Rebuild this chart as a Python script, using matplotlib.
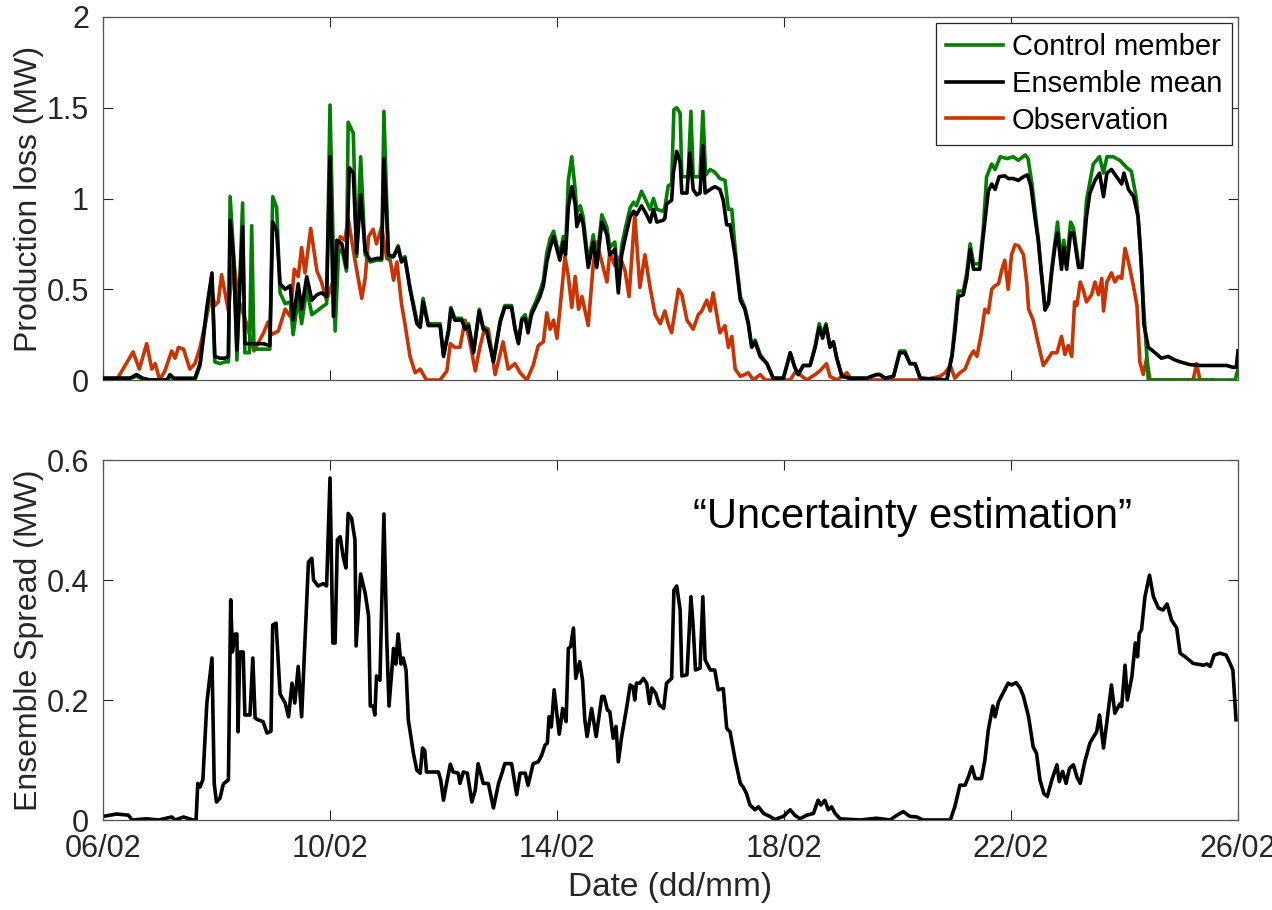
import numpy as np
import matplotlib
matplotlib.use("Agg")
import matplotlib.pyplot as plt

plt.rcParams['font.family'] = ['Liberation Sans', 'DejaVu Sans']

# x values are days since 06/02 00:00
tick_days = [0, 4, 8, 12, 16, 20]
tick_labels = ['06/02', '10/02', '14/02', '18/02', '22/02', '26/02']

mean_pts = [
(0,0.01),(0.48,0.01),(0.59,0.03),(0.7,0.01),(0.83,0.0),(1.13,0.0),(1.18,0.03),(1.25,0.01),(1.62,0.01),(1.71,0.09),(1.83,0.40),(1.92,0.59),(1.97,0.13),(2.06,0.12),(2.15,0.12),(2.21,0.13),(2.24,0.88),(2.30,0.68),(2.36,0.165),(2.46,0.845),(2.50,0.20),(2.64,0.20),(2.82,0.20),(2.94,0.19),(2.99,0.87),(3.06,0.82),(3.12,0.53),(3.21,0.50),(3.30,0.52),(3.35,0.33),(3.44,0.53),(3.50,0.39),(3.59,0.57),(3.68,0.44),(3.77,0.47),(3.85,0.48),(3.94,0.46),(4.00,1.23),(4.06,0.35),(4.12,0.77),(4.21,0.75),(4.29,0.62),(4.34,1.17),(4.41,1.14),(4.47,0.70),(4.54,1.02),(4.62,0.71),(4.71,0.66),(4.82,0.67),(4.91,0.67),(4.95,1.22),(5.03,0.69),(5.12,0.68),(5.20,0.73),(5.26,0.65),(5.32,0.67),(5.41,0.50),(5.53,0.31),(5.59,0.29),(5.64,0.43),(5.73,0.30),(5.94,0.30),(6.00,0.13),(6.09,0.27),(6.13,0.39),(6.20,0.33),(6.32,0.33),(6.38,0.28),(6.44,0.30),(6.53,0.15),(6.63,0.38),(6.70,0.28),(6.76,0.27),(6.88,0.10),(7.00,0.32),(7.08,0.40),(7.20,0.40),(7.26,0.28),(7.32,0.20),(7.38,0.33),(7.44,0.34),(7.49,0.26),(7.55,0.36),(7.61,0.40),(7.70,0.46),(7.76,0.52),(7.82,0.65),(7.88,0.73),(7.94,0.79),(8.00,0.72),(8.05,0.66),(8.11,0.76),(8.15,0.69),(8.20,0.955),(8.26,1.065),(8.32,0.97),(8.35,0.845),(8.41,0.91),(8.46,0.86),(8.55,0.62),(8.64,0.76),(8.70,0.62),(8.79,0.87),(8.88,0.80),(8.93,0.69),(9.02,0.72),(9.08,0.48),(9.14,0.69),(9.20,0.78),(9.29,0.90),(9.35,0.93),(9.40,0.91),(9.49,0.96),(9.58,0.91),(9.64,0.87),(9.70,0.94),(9.76,0.87),(9.87,0.88),(9.90,0.89),(9.93,0.97),(10.02,0.99),(10.05,1.14),(10.11,1.26),(10.17,1.20),(10.20,1.03),(10.29,1.03),(10.34,1.25),(10.40,1.05),(10.46,1.02),(10.52,1.03),(10.57,1.29),(10.61,1.03),(10.70,1.05),(10.78,1.065),(10.87,1.05),(10.93,0.99),(10.99,0.855),(11.05,0.855),(11.14,0.68),(11.23,0.44),(11.31,0.39),(11.37,0.31),(11.43,0.18),(11.49,0.21),(11.58,0.13),(11.70,0.09),(11.81,0.01),(11.99,0.01),(12.11,0.15),(12.19,0.07),(12.25,0.03),(12.34,0.08),(12.46,0.08),(12.55,0.18),(12.62,0.29),(12.68,0.23),(12.74,0.30),(12.81,0.18),(12.87,0.21),(12.93,0.12),(13.02,0.02),(13.16,0.01),(13.46,0.01),(13.63,0.03),(13.69,0.03),(13.78,0.01),(13.93,0.02),(14.04,0.15),(14.13,0.15),(14.22,0.09),(14.31,0.09),(14.40,0.01),(14.87,0.0),(14.96,0.13),(15.01,0.26),(15.07,0.46),(15.16,0.47),(15.22,0.56),(15.28,0.72),(15.34,0.61),(15.45,0.61),(15.51,0.79),(15.60,1.04),(15.66,1.08),(15.72,1.05),(15.79,1.12),(15.89,1.125),(15.95,1.11),(16.04,1.11),(16.13,1.10),(16.22,1.12),(16.29,1.13),(16.35,1.07),(16.42,0.90),(16.48,0.77),(16.54,0.57),(16.60,0.385),(16.66,0.42),(16.72,0.60),(16.78,0.75),(16.82,0.81),(16.89,0.61),(16.93,0.73),(16.98,0.61),(17.05,0.81),(17.10,0.81),(17.19,0.62),(17.25,0.62),(17.33,0.90),(17.39,1.03),(17.48,1.10),(17.56,1.14),(17.63,1.01),(17.69,1.14),(17.77,1.16),(17.86,1.12),(17.95,1.08),(17.99,1.14),(18.07,1.05),(18.16,1.01),(18.24,0.90),(18.30,0.62),(18.34,0.31),(18.42,0.18),(18.54,0.15),(18.65,0.12),(18.77,0.13),(18.89,0.11),(18.98,0.10),(19.15,0.085),(19.33,0.08),(19.57,0.08),(19.80,0.08),(19.91,0.07),(19.97,0.07),(20.0,0.16)]

ctrl_pts = [
(0,0.01),(0.48,0.01),(0.59,0.02),(0.7,0.005),(0.83,0.0),(1.13,0.0),(1.18,0.02),(1.25,0.0),(1.62,0.0),(1.71,0.08),(1.83,0.38),(1.92,0.57),(1.97,0.10),(2.06,0.09),(2.15,0.10),(2.21,0.10),(2.24,1.01),(2.30,0.70),(2.36,0.11),(2.46,0.975),(2.50,0.15),(2.58,0.15),(2.62,0.85),(2.66,0.17),(2.82,0.17),(2.94,0.17),(2.99,1.01),(3.06,0.95),(3.12,0.48),(3.21,0.42),(3.30,0.43),(3.35,0.25),(3.44,0.45),(3.50,0.31),(3.59,0.50),(3.68,0.36),(3.77,0.38),(3.85,0.40),(3.94,0.42),(4.00,1.515),(4.09,0.27),(4.15,0.70),(4.21,0.72),(4.29,0.60),(4.32,1.42),(4.41,1.36),(4.47,0.68),(4.54,1.23),(4.62,0.69),(4.71,0.65),(4.82,0.66),(4.91,0.66),(4.95,1.48),(5.03,0.67),(5.12,0.68),(5.20,0.74),(5.26,0.66),(5.32,0.68),(5.41,0.51),(5.53,0.33),(5.59,0.31),(5.64,0.45),(5.73,0.31),(5.94,0.31),(6.00,0.14),(6.09,0.28),(6.13,0.40),(6.20,0.34),(6.32,0.34),(6.38,0.29),(6.44,0.31),(6.53,0.16),(6.63,0.39),(6.70,0.29),(6.76,0.28),(6.88,0.11),(7.00,0.33),(7.08,0.41),(7.20,0.41),(7.26,0.29),(7.32,0.21),(7.38,0.34),(7.44,0.36),(7.49,0.28),(7.55,0.38),(7.61,0.42),(7.70,0.49),(7.76,0.55),(7.82,0.70),(7.88,0.78),(7.94,0.82),(8.00,0.74),(8.05,0.69),(8.11,0.79),(8.15,0.72),(8.20,1.10),(8.26,1.23),(8.32,1.05),(8.35,0.92),(8.41,0.96),(8.46,0.90),(8.55,0.65),(8.64,0.80),(8.70,0.66),(8.79,0.91),(8.88,0.84),(8.93,0.73),(9.02,0.76),(9.08,0.52),(9.14,0.74),(9.20,0.83),(9.29,0.95),(9.35,0.98),(9.40,0.96),(9.49,1.04),(9.58,0.98),(9.64,0.94),(9.70,1.00),(9.76,0.94),(9.87,0.93),(9.90,0.95),(9.96,1.07),(10.02,1.08),(10.06,1.49),(10.11,1.50),(10.17,1.47),(10.20,1.12),(10.31,1.12),(10.36,1.48),(10.40,1.12),(10.52,1.12),(10.57,1.48),(10.62,1.13),(10.70,1.16),(10.78,1.145),(10.87,1.11),(10.96,1.10),(11.02,0.94),(11.08,0.94),(11.14,0.72),(11.23,0.46),(11.31,0.40),(11.37,0.32),(11.43,0.19),(11.49,0.22),(11.58,0.14),(11.70,0.09),(11.81,0.01),(11.99,0.01),(12.11,0.15),(12.19,0.07),(12.25,0.03),(12.34,0.08),(12.46,0.08),(12.55,0.19),(12.62,0.31),(12.68,0.25),(12.74,0.31),(12.81,0.19),(12.87,0.21),(12.93,0.12),(13.02,0.02),(13.16,0.01),(13.46,0.01),(13.63,0.03),(13.69,0.03),(13.78,0.01),(13.93,0.02),(14.04,0.16),(14.13,0.16),(14.22,0.09),(14.31,0.09),(14.40,0.01),(14.87,0.0),(14.96,0.14),(15.07,0.49),(15.16,0.49),(15.22,0.59),(15.28,0.75),(15.34,0.64),(15.45,0.64),(15.51,0.83),(15.57,1.12),(15.66,1.19),(15.72,1.16),(15.81,1.23),(15.93,1.22),(16.04,1.23),(16.13,1.21),(16.25,1.24),(16.30,1.22),(16.37,1.08),(16.42,0.94),(16.48,0.78),(16.54,0.58),(16.60,0.40),(16.66,0.43),(16.72,0.62),(16.78,0.77),(16.82,0.87),(16.89,0.64),(16.93,0.77),(16.98,0.64),(17.05,0.87),(17.10,0.84),(17.19,0.64),(17.25,0.64),(17.33,0.99),(17.45,1.19),(17.56,1.23),(17.63,1.14),(17.69,1.23),(17.80,1.23),(17.92,1.21),(18.04,1.17),(18.12,1.15),(18.21,1.00),(18.27,0.77),(18.33,0.44),(18.42,0.0),(19.95,0.0),(20.0,0.06)]

obs_pts = [
(0.24,0.0),(0.53,0.155),(0.64,0.06),(0.77,0.20),(0.86,0.06),(0.92,0.09),(1.00,0.0),(1.09,0.05),(1.21,0.16),(1.27,0.12),(1.33,0.18),(1.42,0.17),(1.53,0.06),(1.62,0.09),(1.71,0.18),(1.80,0.31),(1.92,0.49),(1.97,0.41),(2.03,0.43),(2.09,0.58),(2.21,0.38),(2.30,0.67),(2.38,0.45),(2.53,0.31),(2.66,0.16),(2.83,0.26),(2.91,0.32),(2.97,0.25),(3.09,0.27),(3.21,0.39),(3.30,0.35),(3.37,0.61),(3.44,0.57),(3.50,0.73),(3.56,0.59),(3.66,0.835),(3.77,0.60),(3.85,0.54),(3.94,0.44),(4.06,0.55),(4.18,0.79),(4.26,0.77),(4.32,0.89),(4.44,0.66),(4.56,0.45),(4.62,0.56),(4.68,0.79),(4.76,0.83),(4.82,0.75),(4.91,0.845),(5.00,0.67),(5.06,0.66),(5.12,0.55),(5.18,0.65),(5.26,0.42),(5.32,0.31),(5.41,0.13),(5.50,0.04),(5.59,0.06),(5.70,0.0),(5.94,0.0),(6.06,0.05),(6.12,0.20),(6.20,0.18),(6.29,0.18),(6.38,0.33),(6.47,0.20),(6.56,0.05),(6.64,0.18),(6.73,0.29),(6.79,0.28),(6.91,0.03),(7.05,0.21),(7.14,0.06),(7.26,0.09),(7.35,0.04),(7.47,0.0),(7.58,0.08),(7.67,0.19),(7.76,0.21),(7.82,0.37),(7.88,0.28),(7.94,0.33),(8.00,0.23),(8.08,0.48),(8.14,0.68),(8.20,0.57),(8.26,0.40),(8.32,0.57),(8.38,0.39),(8.44,0.46),(8.55,0.30),(8.64,0.64),(8.70,0.76),(8.79,0.65),(8.88,0.54),(8.93,0.70),(9.02,0.63),(9.11,0.68),(9.20,0.60),(9.27,0.46),(9.37,0.91),(9.46,0.51),(9.55,0.69),(9.64,0.51),(9.73,0.36),(9.82,0.31),(9.90,0.38),(9.96,0.31),(10.02,0.26),(10.08,0.38),(10.14,0.50),(10.20,0.47),(10.29,0.33),(10.40,0.28),(10.49,0.36),(10.55,0.38),(10.64,0.44),(10.70,0.38),(10.75,0.48),(10.81,0.37),(10.87,0.26),(10.96,0.30),(11.02,0.18),(11.08,0.24),(11.14,0.06),(11.23,0.02),(11.31,0.03),(11.37,0.04),(11.46,0.0),(11.58,0.03),(11.67,0.0),(12.11,0.0),(12.19,0.04),(12.28,0.03),(12.40,0.0),(12.55,0.03),(12.63,0.05),(12.75,0.09),(12.81,0.02),(12.93,0.0),(13.11,0.04),(13.19,0.0),(14.45,0.0),(14.75,0.02),(14.84,0.04),(14.93,0.08),(15.01,0.01),(15.10,0.04),(15.19,0.06),(15.28,0.13),(15.34,0.16),(15.40,0.13),(15.48,0.26),(15.54,0.39),(15.60,0.37),(15.66,0.50),(15.72,0.52),(15.78,0.53),(15.84,0.61),(15.89,0.66),(15.95,0.50),(16.01,0.69),(16.07,0.745),(16.13,0.74),(16.22,0.69),(16.28,0.53),(16.31,0.39),(16.39,0.33),(16.48,0.20),(16.57,0.08),(16.66,0.12),(16.72,0.15),(16.81,0.15),(16.89,0.24),(16.95,0.14),(17.01,0.19),(17.07,0.13),(17.12,0.43),(17.16,0.41),(17.22,0.54),(17.27,0.50),(17.33,0.43),(17.42,0.47),(17.48,0.54),(17.54,0.47),(17.60,0.56),(17.63,0.38),(17.69,0.54),(17.77,0.59),(17.83,0.54),(17.89,0.57),(17.95,0.56),(18.01,0.725),(18.07,0.65),(18.15,0.53),(18.22,0.41),(18.27,0.10),(18.33,0.03),(18.39,0.12),(18.45,0.0),(19.21,0.0),(19.27,0.09),(19.33,0.0),(19.55,0.0)]

spread_pts = [
(0.0,0.006),(0.24,0.01),(0.45,0.008),(0.51,0.0),(0.77,0.002),(0.98,0.0),(1.21,0.005),(1.27,0.0),(1.42,0.005),(1.59,0.0),(1.64,0.0),(1.67,0.061),(1.71,0.055),(1.76,0.067),(1.83,0.195),(1.92,0.27),(1.96,0.06),(2.00,0.03),(2.06,0.036),(2.12,0.06),(2.21,0.067),(2.25,0.367),(2.28,0.28),(2.33,0.31),(2.36,0.31),(2.38,0.147),(2.41,0.28),(2.47,0.28),(2.50,0.175),(2.59,0.175),(2.64,0.27),(2.68,0.17),(2.73,0.167),(2.82,0.164),(2.89,0.145),(2.96,0.148),(2.99,0.325),(3.05,0.328),(3.12,0.21),(3.21,0.195),(3.27,0.172),(3.33,0.228),(3.38,0.195),(3.44,0.256),(3.50,0.172),(3.62,0.43),(3.68,0.436),(3.71,0.40),(3.79,0.39),(3.88,0.394),(3.94,0.39),(4.00,0.57),(4.05,0.295),(4.09,0.295),(4.13,0.467),(4.18,0.472),(4.23,0.44),(4.28,0.42),(4.32,0.511),(4.38,0.503),(4.44,0.467),(4.46,0.29),(4.54,0.41),(4.62,0.378),(4.68,0.34),(4.71,0.19),(4.76,0.19),(4.79,0.175),(4.82,0.24),(4.88,0.233),(4.95,0.51),(5.00,0.30),(5.04,0.19),(5.12,0.286),(5.16,0.26),(5.20,0.31),(5.25,0.26),(5.29,0.27),(5.34,0.25),(5.38,0.167),(5.47,0.111),(5.53,0.083),(5.59,0.078),(5.63,0.12),(5.67,0.116),(5.70,0.08),(5.91,0.08),(5.95,0.067),(6.00,0.033),(6.06,0.064),(6.12,0.093),(6.17,0.08),(6.26,0.078),(6.29,0.061),(6.35,0.08),(6.42,0.078),(6.50,0.03),(6.56,0.05),(6.61,0.094),(6.70,0.061),(6.79,0.061),(6.88,0.02),(6.97,0.061),(7.03,0.078),(7.08,0.094),(7.20,0.094),(7.29,0.042),(7.35,0.078),(7.44,0.078),(7.49,0.058),(7.58,0.094),(7.67,0.097),(7.73,0.108),(7.79,0.125),(7.83,0.128),(7.86,0.172),(7.90,0.155),(7.95,0.217),(7.99,0.183),(8.04,0.143),(8.10,0.186),(8.16,0.164),(8.20,0.286),(8.24,0.289),(8.29,0.32),(8.33,0.236),(8.40,0.264),(8.45,0.233),(8.49,0.167),(8.53,0.139),(8.61,0.186),(8.69,0.139),(8.79,0.206),(8.83,0.206),(8.89,0.183),(8.93,0.181),(8.99,0.136),(9.04,0.156),(9.08,0.097),(9.14,0.139),(9.23,0.189),(9.29,0.225),(9.34,0.222),(9.37,0.2),(9.40,0.228),(9.46,0.228),(9.52,0.236),(9.58,0.228),(9.63,0.194),(9.67,0.22),(9.74,0.211),(9.80,0.192),(9.88,0.186),(9.93,0.228),(10.02,0.236),(10.06,0.383),(10.11,0.39),(10.17,0.35),(10.20,0.24),(10.29,0.242),(10.36,0.372),(10.40,0.322),(10.44,0.25),(10.52,0.253),(10.57,0.372),(10.61,0.267),(10.70,0.25),(10.78,0.25),(10.84,0.217),(10.93,0.219),(10.99,0.153),(11.05,0.147),(11.14,0.1),(11.23,0.061),(11.28,0.055),(11.34,0.044),(11.40,0.025),(11.49,0.017),(11.55,0.022),(11.64,0.011),(11.75,0.006),(11.84,0.001),(11.99,0.006),(12.11,0.017),(12.19,0.008),(12.28,0.002),(12.40,0.008),(12.52,0.011),(12.60,0.033),(12.65,0.025),(12.72,0.033),(12.78,0.017),(12.84,0.022),(12.90,0.011),(12.99,0.002),(13.34,0.0),(13.63,0.003),(13.87,0.0),(13.99,0.008),(14.10,0.014),(14.22,0.006),(14.34,0.005),(14.45,0.0),(14.93,0.0),(15.01,0.022),(15.10,0.058),(15.19,0.058),(15.25,0.072),(15.31,0.089),(15.37,0.069),(15.48,0.069),(15.54,0.1),(15.60,0.15),(15.68,0.19),(15.72,0.172),(15.78,0.197),(15.84,0.208),(15.89,0.217),(15.95,0.228),(16.01,0.225),(16.09,0.229),(16.16,0.22),(16.22,0.206),(16.31,0.172),(16.39,0.122),(16.45,0.111),(16.51,0.067),(16.58,0.044),(16.64,0.039),(16.72,0.067),(16.81,0.092),(16.85,0.064),(16.91,0.081),(16.97,0.061),(17.03,0.086),(17.10,0.092),(17.16,0.072),(17.22,0.061),(17.30,0.097),(17.39,0.128),(17.45,0.138),(17.51,0.147),(17.56,0.175),(17.63,0.12),(17.69,0.164),(17.77,0.225),(17.83,0.178),(17.92,0.194),(17.95,0.189),(18.01,0.258),(18.05,0.2),(18.13,0.239),(18.19,0.295),(18.23,0.272),(18.26,0.311),(18.30,0.317),(18.36,0.372),(18.44,0.408),(18.51,0.372),(18.60,0.353),(18.68,0.35),(18.75,0.36),(18.83,0.333),(18.92,0.32),(18.98,0.278),(19.07,0.272),(19.21,0.261),(19.39,0.258),(19.45,0.26),(19.51,0.256),(19.58,0.275),(19.68,0.278),(19.79,0.275),(19.86,0.261),(19.91,0.25),(19.965,0.167)]

series_names = ['Control member', 'Ensemble mean', 'Observation']
series_colors = ['#008000', '#000000', '#CC3300']

def xy(pts):
    a = np.array(pts, dtype=float)
    return a[:, 0], a[:, 1]

fig = plt.figure(figsize=(12.72, 9.10), dpi=100)
ax1 = fig.add_axes([103/1272, 1-380/910, 1135/1272, 363/910])
ax2 = fig.add_axes([103/1272, 1-820/910, 1135/1272, 360/910])

lw = 2.6
axc = '#262626'
tx, ty = xy(obs_pts)
l3, = ax1.plot(tx, ty, color=series_colors[2], lw=lw, zorder=2)
tx, ty = xy(ctrl_pts)
l1, = ax1.plot(tx, ty, color=series_colors[0], lw=lw, zorder=3)
tx, ty = xy(mean_pts)
l2, = ax1.plot(tx, ty, color=series_colors[1], lw=lw, zorder=4)

tx, ty = xy(spread_pts)
ax2.plot(tx, ty, color='black', lw=lw)

for ax in (ax1, ax2):
    ax.set_xlim(0, 20)
    ax.set_xticks(tick_days)
    ax.tick_params(direction='in', length=7, width=0.8, top=True, right=True,
                   labelsize=22, colors=axc)
    ax.tick_params(axis='y', pad=10)
    ax.tick_params(axis='x', pad=10)
    for s in ax.spines.values():
        s.set_color('#555555')
        s.set_linewidth(0.9)

ax1.set_ylim(0, 2)
ax1.set_yticks([0, 0.5, 1, 1.5, 2])
ax1.set_yticklabels(['0', '0.5', '1', '1.5', '2'])
ax1.set_xticklabels([])
ax2.set_ylim(0, 0.6)
ax2.set_yticks([0, 0.2, 0.4, 0.6])
ax2.set_yticklabels(['0', '0.2', '0.4', '0.6'])
ax2.set_xticklabels(tick_labels)

ax1.set_ylabel('Production loss (MW)', fontsize=23, color=axc)
ax2.set_ylabel('Ensemble Spread (MW)', fontsize=23, color=axc)
ax1.yaxis.set_label_coords(-0.052, 0.5)
ax2.yaxis.set_label_coords(-0.052, 0.5)
ax2.set_xlabel('Date (dd/mm)', fontsize=24, color=axc, labelpad=6)

leg = ax1.legend([l1, l2, l3], series_names, loc='upper right', fontsize=21,
                 fancybox=False, framealpha=1, edgecolor=axc, borderaxespad=0.2,
                 handlelength=1.95, handletextpad=0.3, labelspacing=0.3,
                 borderpad=0.35)
leg.get_frame().set_linewidth(0.9)

ax2.text(14.27, 0.505, '\u201cUncertainty estimation\u201d', fontsize=30,
         ha='center', va='center', color='black')

fig.savefig('out.png', dpi=100)
